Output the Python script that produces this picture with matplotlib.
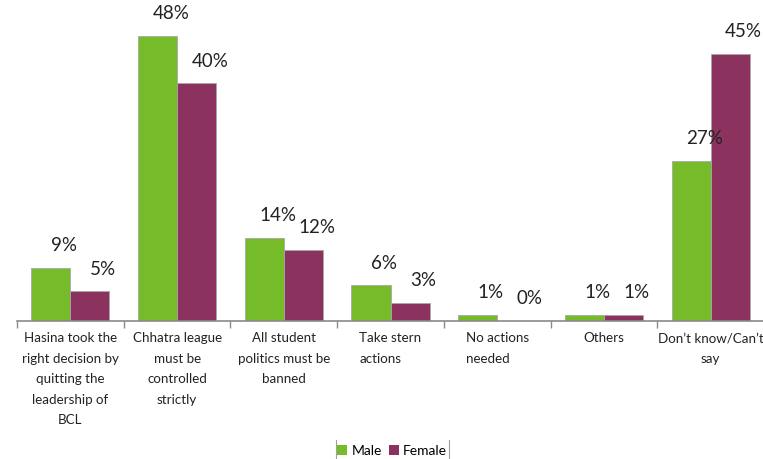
import matplotlib.pyplot as plt
import numpy as np
from matplotlib.lines import Line2D
from matplotlib.patches import Patch

plt.rcParams["font.family"] = ["Lato", "DejaVu Sans"]

categories = [
    "Hasina took the\nright decision by\nquitting the\nleadership of\nBCL",
    "Chhatra league\nmust be\ncontrolled\nstrictly",
    "All student\npolitics must be\nbanned",
    "Take stern\nactions",
    "No actions\nneeded",
    "Others",
    "Don\u2019t know/Can\u2019t\nsay",
]
male = [9, 48, 14, 6, 1, 1, 27]
female = [5, 40, 12, 3, 0, 1, 45]

green = "#76bc2a"
maroon = "#8b335e"

fig = plt.figure(figsize=(7.63, 4.59), dpi=100)
ax = fig.add_axes([17 / 763, 1 - 321 / 459, 747 / 763, 297 / 459])

x = np.arange(len(categories))
w = 0.366
bm = ax.bar(x - w / 2, male, w, color=green, edgecolor="#a8a8a8", linewidth=0.6)
bf = ax.bar(x + w / 2, female, w, color=maroon, edgecolor="#a8a8a8", linewidth=0.6)

for bars, vals in ((bm, male), (bf, female)):
    for b, v in zip(bars, vals):
        ax.annotate(f"{v}%", (b.get_x() + b.get_width() / 2, v),
                    xytext=(9.5, 16), textcoords="offset points",
                    ha="center", va="center", fontsize=13.5, color="#222222",
                    annotation_clip=False)

ax.set_xlim(-0.5, len(categories) - 0.5)
ax.set_ylim(0, 50)
ax.set_yticks([])
for s in ("top", "right", "left"):
    ax.spines[s].set_visible(False)
ax.spines["bottom"].set_color("#8a8a8a")
ax.spines["bottom"].set_linewidth(1.2)

# ticks at category boundaries, labels at centres
ax.set_xticks(np.arange(len(categories) + 1) - 0.5)
ax.set_xticklabels([])
ax.tick_params(axis="x", length=5, width=1, color="#8a8a8a")
ax.set_xticks(x, minor=True)
ax.set_xticklabels(categories, minor=True, fontsize=9.6, color="#222222",
                   linespacing=1.85, va="top")
ax.tick_params(axis="x", which="minor", length=0, pad=8)
for lbl in ax.get_xticklabels(minor=True):
    if lbl.get_text().startswith(("Take", "No actions")):
        lbl.set_multialignment("left")

handles = [Patch(facecolor=green, label="Male"), Patch(facecolor=maroon, label="Female")]
fig.legend(handles=handles, loc="center", bbox_to_anchor=(392 / 763, 1 - 451 / 459),
           ncol=2, frameon=False, fontsize=10, handlelength=0.75, handleheight=0.75,
           handletextpad=0.3, columnspacing=0.5, borderaxespad=0)
for xp in (336, 449):
    fig.add_artist(Line2D([xp / 763, xp / 763], [0, 1 - 440 / 459],
                          color="#a0a0a0", linewidth=0.8))

fig.savefig("out.png", dpi=100)
